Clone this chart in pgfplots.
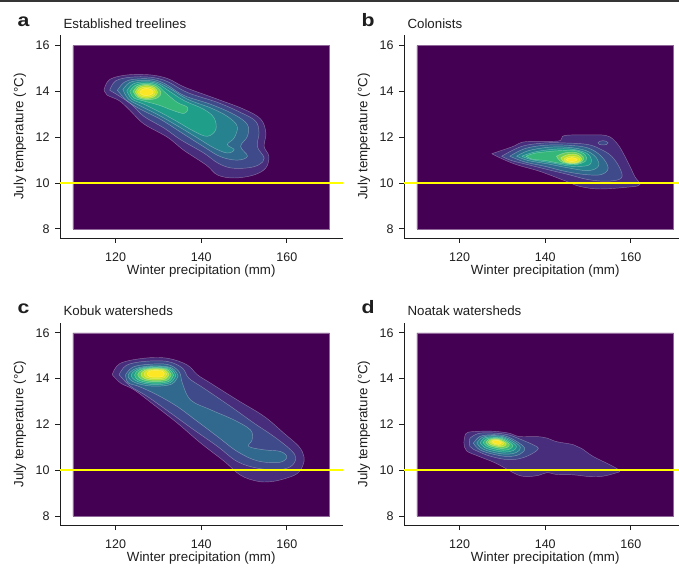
\documentclass[border=0pt]{standalone}
\usepackage{fontspec}
\setmainfont{Liberation Sans}
\usepackage{pgfplots}
\pgfplotsset{compat=1.18}

% viridis steps used for the density bands
\definecolor{bg}{HTML}{440154}
\definecolor{v1}{HTML}{472D7B}
\definecolor{v2}{HTML}{3E4A89}
\definecolor{v3}{HTML}{31688E}
\definecolor{v4}{HTML}{26828E}
\definecolor{v5}{HTML}{1F9E89}
\definecolor{v6}{HTML}{35B779}
\definecolor{v7}{HTML}{6DCD59}
\definecolor{v8}{HTML}{B4DE2C}
\definecolor{v9}{HTML}{DDE318}
\definecolor{v10}{HTML}{FDE725}
\definecolor{ink}{HTML}{1E1E1E}
\definecolor{thr}{HTML}{FFFF00}

\pgfplotsset{
  panel/.style={
    scale only axis, width=282.5pt, height=202.7pt,
    xmin=107, xmax=173, ymin=7.6, ymax=16.45,
    axis x line*=bottom, axis y line*=left,
    axis line style={-, ink, line width=0.8pt},
    tick align=outside, major tick length=5pt,
    tick style={ink, line width=0.8pt},
    xtick={120,140,160}, ytick={8,10,12,14,16},
    tick label style={font=\fontsize{12.5}{13}\selectfont, text=ink},
    xticklabel style={yshift=-6pt},
    yticklabel style={xshift=-2pt},
    /pgf/number format/assume math mode=true,
    label style={font=\fontsize{13.3}{15}\selectfont, text=ink},
    xlabel={Winter precipitation (mm)},
    ylabel={July temperature (°C)},
    xlabel style={at={(axis description cs:0.5,-0.161)}, anchor=center},
    ylabel style={at={(axis description cs:-0.1416,0.5)}, anchor=center},
    clip=false,
  },
  lev/.style={fill=#1, draw=white, draw opacity=0.35, line width=0.45pt,
    smooth, tension=0.6, line join=round},
  bgrect/.style={fill=bg, draw=bg!60!white, line width=0.5pt},
  yline/.style={draw=thr, line width=2.2pt},
}

\newcommand{\ptitle}[2]{%
  \node[anchor=base west, font=\fontsize{13.3}{15}\selectfont, text=ink]
    at (axis description cs:0,1.033) {#2};
  \node[anchor=base west, font=\fontsize{18}{18}\selectfont\bfseries, text=ink, xscale=1.18]
    at (axis description cs:-0.165,1.044) {#1};}

\begin{document}
\begin{tikzpicture}
\useasboundingbox (0,0) rectangle (679pt,568pt);
\draw[ink!90, line width=1.6pt] (0,567.2pt) -- (679pt,567.2pt);

% ---------------- a: established treelines
\begin{axis}[panel, at={(60pt,330pt)}, anchor=south west]
\addplot[bgrect] coordinates {(110,8)(170,8)(170,16)(110,16)(110,8)};
\addplot[lev=v1] coordinates {(117.3,14.08)(118.6,14.52)(122.7,14.72)(128.2,14.72)(132.3,14.55)(136.2,14.18)(143.8,13.66)(150.0,13.22)(153.9,12.79)(155.1,12.19)(154.7,11.60)(155.8,11.17)(155.1,10.66)(152.3,10.35)(147.7,10.22)(143.8,10.35)(141.2,10.78)(136.0,11.42)(132.1,12.00)(126.6,12.58)(123.3,13.18)(120.8,13.60)(118.0,13.84)(117.3,14.08)};
\addplot[lev=v2] coordinates {(118.6,14.05)(120.0,14.46)(123.5,14.62)(128.2,14.62)(132.1,14.43)(136.8,13.95)(143.8,13.52)(149.2,13.08)(152.7,12.70)(153.5,12.19)(153.1,11.60)(154.7,11.09)(153.5,10.80)(150.8,10.66)(146.9,10.66)(143.8,10.88)(140.6,11.31)(135.2,11.89)(131.3,12.40)(126.6,12.91)(123.9,13.40)(121.0,13.78)(118.6,14.05)};
\addplot[lev=v3] coordinates {(120.4,14.05)(122.0,14.40)(124.3,14.53)(128.2,14.54)(131.5,14.34)(136.0,13.82)(142.2,13.44)(147.7,12.99)(150.8,12.55)(150.8,12.04)(149.2,11.60)(150.8,11.17)(148.4,11.00)(144.5,11.15)(140.6,11.58)(135.2,12.22)(130.5,12.78)(125.8,13.22)(122.6,13.60)(120.4,14.05)};
\addplot[lev=v4] coordinates {(121.7,14.08)(123.2,14.38)(125.8,14.48)(129.2,14.43)(132.4,14.16)(136.8,13.66)(142.2,13.28)(146.1,12.91)(148.4,12.48)(147.7,11.97)(146.1,11.68)(147.7,11.46)(146.1,11.31)(143.0,11.53)(139.1,11.97)(134.4,12.50)(129.7,13.00)(125.8,13.36)(123.0,13.66)(121.7,14.08)};
\addplot[lev=v5] coordinates {(122.6,14.02)(124.0,14.32)(126.6,14.42)(129.6,14.35)(132.4,14.03)(136.0,13.60)(140.6,13.22)(143.0,12.84)(143.4,12.33)(141.4,12.04)(138.3,12.26)(134.4,12.68)(130.5,13.08)(126.6,13.44)(123.8,13.66)(122.6,14.02)};
\addplot[lev=v6] coordinates {(123.3,14.01)(124.6,14.27)(127.0,14.36)(129.6,14.28)(131.6,13.95)(134.4,13.52)(136.8,13.30)(136.0,13.04)(133.2,13.18)(130.1,13.40)(126.6,13.58)(124.2,13.72)(123.3,14.01)};
\addplot[lev=v7] coordinates {(124.1,13.99)(125.0,14.22)(127.2,14.31)(129.4,14.22)(130.6,13.95)(129.8,13.72)(127.5,13.64)(125.2,13.73)(124.1,13.99)};
\addplot[lev=v8] coordinates {(124.6,13.98)(125.4,14.18)(127.2,14.26)(129.0,14.18)(129.8,13.96)(129.0,13.76)(127.2,13.69)(125.4,13.77)(124.6,13.98)};
\addplot[lev=v9] coordinates {(125.1,13.97)(125.7,14.13)(127.2,14.19)(128.7,14.13)(129.3,13.97)(128.7,13.81)(127.2,13.75)(125.7,13.81)(125.1,13.97)};
\addplot[lev=v10] coordinates {(125.6,13.97)(126.1,14.08)(127.2,14.13)(128.3,14.08)(128.8,13.97)(128.3,13.86)(127.2,13.81)(126.1,13.86)(125.6,13.97)};
\addplot[yline] coordinates {(107,10)(173,10)};
\ptitle{a}{Established treelines}
\end{axis}

% ---------------- b: colonists
\begin{axis}[panel, at={(404pt,330pt)}, anchor=south west]
\addplot[bgrect] coordinates {(110,8)(170,8)(170,16)(110,16)(110,8)};
\addplot[lev=v1] coordinates {(127.5,11.28)(129.4,11.40)(132.5,11.60)(134.5,11.78)(137.0,11.82)(141.0,11.82)(143.6,11.86)(144.4,12.07)(149.0,12.10)(154.3,12.07)(156.7,11.75)(158.2,11.31)(159.8,10.73)(160.9,10.29)(162.1,9.93)(159.8,9.83)(152.8,9.74)(148.1,9.85)(145.0,10.07)(138.7,10.51)(133.3,10.80)(129.4,11.10)(127.5,11.28)};
\addplot[lev=v2] coordinates {(152.3,11.75)(152.7,11.82)(153.5,11.85)(154.3,11.82)(154.7,11.75)(154.3,11.68)(153.5,11.66)(152.7,11.68)(152.3,11.75)};
\addplot[lev=v2] coordinates {(129.8,11.17)(134.5,11.60)(139.9,11.75)(144.6,11.75)(150.0,11.68)(153.1,11.46)(155.5,11.17)(157.4,10.66)(157.8,10.22)(154.7,10.08)(150.0,10.15)(145.4,10.37)(140.7,10.58)(136.0,10.80)(132.1,10.98)(129.8,11.17)};
\addplot[lev=v3] coordinates {(131.7,11.17)(135.2,11.50)(139.9,11.65)(145.4,11.65)(150.0,11.53)(153.1,11.17)(154.7,10.66)(153.1,10.37)(149.3,10.37)(144.6,10.51)(139.9,10.73)(135.2,10.92)(131.7,11.17)};
\addplot[lev=v4] coordinates {(133.3,11.17)(136.0,11.41)(140.7,11.56)(145.4,11.56)(149.6,11.41)(152.0,11.09)(152.4,10.73)(150.0,10.54)(145.4,10.66)(140.7,10.83)(136.0,10.98)(133.3,11.17)};
\addplot[lev=v5] coordinates {(134.5,11.17)(137.6,11.36)(142.2,11.48)(146.1,11.48)(149.6,11.31)(150.8,11.02)(150.0,10.77)(146.1,10.73)(141.5,10.88)(136.8,11.02)(134.5,11.17)};
\addplot[lev=v6] coordinates {(135.5,11.17)(137.5,11.30)(141.0,11.38)(144.0,11.42)(147.0,11.42)(149.3,11.24)(149.5,10.97)(147.0,10.80)(143.5,10.86)(140.0,10.98)(137.0,11.04)(135.5,11.17)};
\addplot[lev=v7] coordinates {(142.6,11.17)(144.6,11.32)(147.3,11.33)(148.9,11.14)(148.5,10.92)(146.5,10.84)(143.8,10.92)(142.6,11.17)};
\addplot[lev=v8] coordinates {(143.6,11.10)(145.4,11.25)(147.5,11.23)(148.5,11.05)(147.7,10.89)(145.7,10.86)(144.2,10.95)(143.6,11.10)};
\addplot[lev=v9] coordinates {(144.4,11.05)(145.7,11.17)(147.5,11.13)(148.1,11.02)(147.3,10.90)(145.7,10.89)(144.7,10.95)(144.4,11.05)};
\addplot[lev=v10] coordinates {(144.9,11.02)(145.3,11.08)(146.2,11.11)(147.1,11.08)(147.5,11.02)(147.1,10.96)(146.2,10.93)(145.3,10.96)(144.9,11.02)};
\addplot[yline] coordinates {(107,10)(173,10)};
\ptitle{b}{Colonists}
\end{axis}

% ---------------- c: Kobuk watersheds
\begin{axis}[panel, at={(60pt,42.8pt)}, anchor=south west]
\addplot[bgrect] coordinates {(110,8)(170,8)(170,16)(110,16)(110,8)};
\addplot[lev=v1] coordinates {(119.2,14.17)(121.0,14.66)(126.6,14.89)(132.1,14.89)(136.7,14.60)(139.1,14.17)(142.2,13.80)(148.4,13.07)(154.7,12.35)(159.3,11.62)(162.8,11.04)(164.0,10.60)(163.8,10.24)(162.4,9.85)(159.3,9.62)(156.2,9.50)(153.1,9.52)(149.2,9.78)(145.3,10.40)(139.9,11.18)(134.4,12.06)(128.9,12.86)(124.3,13.51)(121.2,13.80)(119.2,14.17)};
\addplot[lev=v2] coordinates {(120.8,14.17)(122.5,14.58)(126.6,14.75)(132.1,14.75)(135.6,14.46)(137.1,14.02)(140.6,13.58)(146.9,12.78)(152.3,12.06)(157.0,11.47)(160.9,10.89)(162.1,10.53)(160.9,10.16)(157.8,10.02)(153.1,10.09)(148.4,10.38)(143.8,11.04)(138.3,11.76)(132.9,12.49)(127.4,13.22)(123.5,13.66)(120.8,14.17)};
\addplot[lev=v3] coordinates {(122.3,14.17)(124.0,14.50)(127.4,14.62)(132.1,14.62)(134.8,14.31)(135.6,13.80)(137.5,13.07)(142.2,12.64)(147.6,12.20)(151.5,11.76)(151.9,11.33)(151.1,11.04)(154.7,10.89)(158.5,10.82)(160.0,10.57)(158.2,10.34)(153.1,10.41)(148.4,10.82)(143.8,11.47)(139.1,12.13)(134.4,12.78)(129.7,13.29)(125.4,13.66)(122.9,13.82)(122.3,14.17)};
\addplot[lev=v4] coordinates {(134.6,14.12)(133.1,14.47)(128.75,14.56)(124.6,14.43)(122.9,14.12)(124.6,13.82)(128.75,13.67)(133.1,13.76)(134.6,14.12)};
\addplot[lev=v5] coordinates {(134.07,14.14)(132.73,14.45)(128.86,14.53)(125.15,14.41)(123.65,14.14)(125.15,13.87)(128.86,13.74)(132.73,13.82)(134.07,14.14)};
\addplot[lev=v6] coordinates {(133.53,14.15)(132.37,14.42)(128.97,14.49)(125.70,14.40)(124.40,14.15)(125.70,13.91)(128.97,13.80)(132.37,13.87)(133.53,14.15)};
\addplot[lev=v7] coordinates {(133.0,14.165)(132.0,14.40)(129.08,14.46)(126.25,14.38)(125.15,14.165)(126.25,13.955)(129.08,13.865)(132.0,13.925)(133.0,14.165)};
\addplot[lev=v8] coordinates {(132.47,14.18)(131.63,14.377)(129.18,14.427)(126.8,14.363)(125.9,14.18)(126.8,14.0)(129.18,13.93)(131.63,13.98)(132.47,14.18)};
\addplot[lev=v9] coordinates {(131.93,14.195)(131.27,14.353)(129.29,14.393)(127.35,14.347)(126.65,14.195)(127.35,14.045)(129.29,13.995)(131.27,14.035)(131.93,14.195)};
\addplot[lev=v10] coordinates {(131.4,14.21)(130.9,14.33)(129.4,14.36)(127.9,14.33)(127.4,14.21)(127.9,14.09)(129.4,14.06)(130.9,14.09)(131.4,14.21)};
\addplot[yline] coordinates {(107,10)(173,10)};
\ptitle{c}{Kobuk watersheds}
\end{axis}

% ---------------- d: Noatak watersheds
\begin{axis}[panel, at={(404pt,42.8pt)}, anchor=south west]
\addplot[bgrect] coordinates {(110,8)(170,8)(170,16)(110,16)(110,8)};
\addplot[lev=v1] coordinates {(121.3,11.55)(122.0,11.66)(124.5,11.70)(128.0,11.70)(131.5,11.62)(134.0,11.47)(138.0,11.47)(140.5,11.40)(142.6,11.25)(146.5,11.12)(148.5,10.95)(151.2,10.60)(155.1,10.24)(157.4,9.98)(156.5,9.88)(153.5,9.74)(150.5,9.72)(146.5,9.80)(142.5,9.82)(140.5,9.90)(138.5,9.78)(135.6,9.72)(133.5,9.80)(131.3,10.02)(128.2,10.33)(124.3,10.62)(121.6,10.85)(121.0,11.20)(121.3,11.55)};
\addplot[lev=v2] coordinates {(122.4,11.40)(124.3,11.60)(127.4,11.63)(131.3,11.55)(134.5,11.33)(137.2,11.11)(138.4,10.96)(137.2,10.75)(134.5,10.53)(131.3,10.46)(127.4,10.60)(124.3,10.82)(122.4,11.04)(122.4,11.40)};
\addplot[lev=v3] coordinates {(123.2,11.18)(124.7,11.47)(127.4,11.55)(130.6,11.50)(133.3,11.26)(135.2,10.96)(134.1,10.70)(131.3,10.60)(127.8,10.70)(124.7,10.89)(123.2,11.18)};
\addplot[lev=v4] coordinates {(124.0,11.19)(125.3,11.44)(127.6,11.51)(130.3,11.46)(132.6,11.26)(134.2,11.00)(133.3,10.78)(130.9,10.70)(127.9,10.78)(125.3,10.94)(124.0,11.19)};
\addplot[lev=v5] coordinates {(124.77,11.20)(125.83,11.41)(127.75,11.46)(130.02,11.43)(131.94,11.26)(133.29,11.04)(132.51,10.86)(130.52,10.79)(128.03,10.86)(125.83,10.99)(124.77,11.20)};
\addplot[lev=v6] coordinates {(125.47,11.21)(126.34,11.38)(127.9,11.42)(129.76,11.40)(131.33,11.26)(132.43,11.08)(131.79,10.93)(130.17,10.87)(128.14,10.93)(126.34,11.04)(125.47,11.21)};
\addplot[lev=v7] coordinates {(126.12,11.22)(126.81,11.35)(128.05,11.39)(129.52,11.37)(130.76,11.26)(131.64,11.12)(131.13,11.00)(129.84,10.95)(128.23,11.00)(126.81,11.08)(126.12,11.22)};
\addplot[lev=v8] coordinates {(126.71,11.23)(127.23,11.33)(128.18,11.36)(129.3,11.34)(130.25,11.25)(130.91,11.15)(130.53,11.06)(129.55,11.02)(128.32,11.06)(127.23,11.12)(126.71,11.23)};
\addplot[lev=v9] coordinates {(127.2,11.23)(127.59,11.31)(128.29,11.33)(129.12,11.32)(129.82,11.25)(130.32,11.18)(130.03,11.11)(129.3,11.08)(128.39,11.11)(127.59,11.16)(127.2,11.23)};
\addplot[lev=v10] coordinates {(127.63,11.24)(127.9,11.29)(128.38,11.30)(128.96,11.30)(129.45,11.25)(129.79,11.20)(129.59,11.15)(129.09,11.13)(128.46,11.15)(127.9,11.19)(127.63,11.24)};
\addplot[yline] coordinates {(107,10)(173,10)};
\ptitle{d}{Noatak watersheds}
\end{axis}
\end{tikzpicture}
\end{document}
